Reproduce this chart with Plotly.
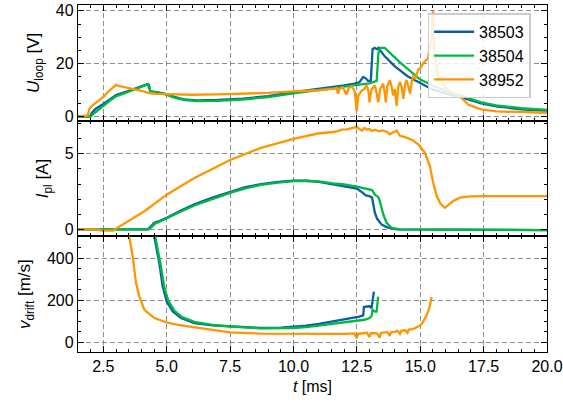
import plotly.graph_objects as go
from plotly.subplots import make_subplots

# ---------------- data ----------------
shots = ["38503", "38504", "38952"]
colors = ["#0C5DA5", "#00B945", "#FF9500"]

# Loop voltage U_loop [V]
t_u_38503 = [1.5, 1.97, 2.05, 2.2, 2.5, 2.8, 3.0, 3.5, 4.0, 4.25, 4.3, 4.35, 4.6, 4.9, 5.3, 5.7, 6.2,
             7.0, 8.0, 9.0, 10.0, 10.5, 11.5, 12.0, 12.4, 12.6, 12.75, 12.85, 12.95, 13.05, 13.12,
             13.2, 13.3, 13.35, 13.6, 14.0, 14.5, 15.0, 15.5, 16.0, 16.6, 17.4, 18.0, 19.0, 20.0]
u_38503 = [0, 0, 1.5, 3.0, 4.8, 7.0, 8.2, 9.8, 11.3, 12.3, 12.0, 9.6, 9.3, 8.7, 7.5, 6.5, 6.2,
           6.3, 6.8, 7.8, 9.3, 9.9, 11.0, 11.8, 12.5, 13.0, 15.0, 14.5, 13.5, 13.6, 25.5,
           26.0, 25.5, 26.0, 22.8, 19.0, 15.3, 12.6, 10.2, 8.8, 7.4, 5.0, 3.9, 2.8, 2.2]

t_u_38504 = [1.5, 2.0, 2.1, 2.3, 2.5, 2.8, 3.0, 3.5, 4.0, 4.25, 4.35, 4.6, 4.9, 5.3, 5.7, 6.2,
             7.0, 8.0, 9.0, 10.0, 10.5, 11.5, 12.0, 12.5, 13.0, 13.28, 13.35, 13.42, 13.6, 14.2,
             15.0, 15.5, 16.0, 16.6, 17.4, 18.0, 19.0, 20.0]
u_38504 = [0, 0, 1.0, 2.6, 4.3, 6.4, 7.7, 9.6, 11.2, 12.2, 9.6, 9.2, 8.6, 7.2, 6.3, 5.9,
           6.0, 6.5, 7.4, 8.8, 9.5, 10.8, 11.4, 12.0, 12.6, 13.5, 24.0, 26.0, 26.0, 20.5,
           14.0, 11.8, 9.8, 8.0, 5.4, 4.3, 3.2, 2.6]

t_u_38952 = [1.5, 1.88, 1.95, 2.1, 2.3, 2.5, 2.7, 2.9, 3.0, 3.1, 3.3, 3.6, 4.0, 4.3, 4.6, 5.0,
             6.0, 7.0, 8.0, 9.0, 10.0, 11.0, 11.5,
             11.6, 11.7, 11.76, 11.82, 11.95, 12.09, 12.18, 12.3, 12.42, 12.49, 12.56, 12.69,
             12.8, 12.88, 12.95, 13.0, 13.07, 13.14, 13.21, 13.28, 13.34, 13.42, 13.54, 13.6,
             13.64, 13.7, 13.8, 13.88, 13.93, 14.0, 14.07, 14.13, 14.2, 14.27, 14.33, 14.4,
             14.46, 14.53, 14.6, 14.66, 14.72, 14.8, 14.92, 15.02, 15.12,
             15.3, 15.45, 15.5, 15.55, 15.7, 16.0, 16.3, 16.6, 16.9, 17.4, 18.0, 19.0, 20.0]
u_38952 = [0.3, 0.3, 3.0, 4.5, 6.0, 7.5, 9.5, 11.2, 12.0, 11.6, 11.2, 10.8, 9.8, 8.9, 8.6, 8.5,
           8.3, 8.4, 8.6, 9.0, 9.6, 10.0, 10.5,
           10.4, 10.8, 8.7, 10.6, 11.0, 8.3, 10.8, 11.5, 9.5, 2.2, 8.0, 9.9,
           10.5, 11.9, 10.0, 5.4, 10.2, 11.0, 11.9, 9.0, 5.4, 10.5, 12.5, 9.0,
           5.4, 11.5, 13.8, 11.0, 8.0, 10.5, 4.1, 11.0, 13.2, 11.0, 6.7, 12.0,
           13.8, 11.5, 8.7, 13.0, 15.1, 14.5, 17.7, 18.5, 20.3,
           22.0, 30.0, 40.0, 25.0, 15.0, 11.0, 9.0, 7.4, 4.5, 2.8, 2.0, 1.7, 1.5]

# Plasma current I_pl [A]
t_i_38503 = [1.5, 4.25, 4.35, 4.51, 4.7, 5.0, 5.5, 6.09, 6.8, 7.5, 8.1, 8.72, 9.4, 10.0, 10.5,
             11.0, 11.56, 12.0, 12.5, 12.75, 12.85, 13.0, 13.1, 13.21, 13.3, 13.47, 13.67,
             14.07, 16.0, 20.0]
i_38503 = [0, 0, 0.15, 0.44, 0.55, 0.77, 1.2, 1.66, 2.1, 2.5, 2.8, 3.0, 3.15, 3.22, 3.22,
           3.15, 3.0, 2.88, 2.7, 2.4, 2.25, 2.2, 2.1, 1.1, 0.7, 0.33, 0.15,
           0.0, -0.03, -0.05]

t_i_38504 = [1.5, 4.28, 4.4, 4.55, 4.7, 5.0, 5.5, 6.09, 6.8, 7.5, 8.1, 8.72, 9.4, 10.0, 10.5,
             11.0, 11.56, 12.0, 12.5, 12.8, 13.1, 13.21, 13.34, 13.4, 13.47, 13.54, 13.67,
             13.87, 14.2, 16.0, 20.0]
i_38504 = [0, 0, 0.15, 0.4, 0.5, 0.72, 1.13, 1.58, 2.02, 2.42, 2.72, 2.95, 3.1, 3.2, 3.22,
           3.18, 3.05, 2.98, 2.83, 2.72, 2.6, 2.3, 2.15, 1.9, 1.35, 1.0, 0.44,
           0.1, 0.0, -0.03, -0.05]

t_i_38952 = [1.5, 2.3, 2.4, 2.9, 3.0, 3.2, 3.46, 4.12, 5.0, 6.09, 7.5, 8.72, 10.0, 10.96, 11.56,
             11.75, 11.9, 12.1, 12.3, 12.5, 12.6, 12.7, 12.8, 12.9, 13.0, 13.1, 13.2, 13.4,
             13.5, 13.7, 13.8, 13.9, 14.0, 14.07, 14.2, 14.46, 14.7, 14.92, 15.18, 15.38,
             15.51, 15.65, 15.8, 15.97, 16.3, 16.57, 17.0, 17.49, 20.0]
i_38952 = [0, 0, -0.08, -0.08, 0.05, 0.25, 0.55, 1.2, 2.3, 3.4, 4.6, 5.4, 6.0, 6.35, 6.45,
           6.5, 6.6, 6.62, 6.7, 6.78, 6.65, 6.55, 6.72, 6.6, 6.65, 6.52, 6.6, 6.5,
           6.55, 6.45, 6.3, 6.4, 6.5, 6.55, 6.2, 6.08, 5.9, 5.64, 5.08, 4.2,
           3.09, 2.21, 1.7, 1.43, 1.88, 2.1, 2.18, 2.2, 2.2]

# Drift velocity v_drift [m/s]
t_v_38503 = [4.35, 4.51, 4.71, 4.84, 5.0, 5.24, 5.56, 6.09, 6.8, 7.5, 8.72, 9.5, 10.0, 10.5,
             11.0, 11.56, 12.0, 12.35, 12.6, 12.75, 12.78, 12.9, 13.01, 13.08, 13.12, 13.17]
v_38503 = [900, 500, 375, 265, 194, 146, 115, 91, 80, 75, 68, 70, 74, 79,
           88, 99, 107, 115, 122, 128, 168, 170, 171, 162, 200, 241]

t_v_38504 = [4.4, 4.55, 4.75, 4.9, 5.05, 5.3, 5.6, 6.09, 6.8, 7.5, 8.72, 9.5, 10.0, 10.5,
             11.0, 11.56, 12.0, 12.5, 12.8, 13.0, 13.08, 13.12, 13.21, 13.28, 13.34]
v_38504 = [900, 500, 375, 265, 200, 150, 120, 97, 83, 75, 66, 66, 68, 72,
           80, 88, 95, 103, 107, 115, 125, 154, 146, 146, 217]

t_v_38952 = [3.4, 3.52, 3.66, 3.79, 3.92, 4.12, 4.51, 5.0, 5.5, 6.09, 6.8, 7.5, 8.72, 9.5,
             10.5, 11.0, 11.5, 12.0, 12.4, 12.5, 12.55, 12.8, 12.9, 13.0, 13.05, 13.3, 13.4,
             13.45, 13.7, 13.8, 13.85, 14.0, 14.1, 14.2, 14.25, 14.4, 14.5, 14.55, 14.7, 14.8,
             15.0, 15.1, 15.25, 15.35, 15.45]
v_38952 = [900, 500, 406, 280, 217, 154, 115, 94, 82, 72, 58, 47, 41, 40,
           40, 40, 41, 40, 42, 20, 40, 42, 45, 25, 44, 43, 22,
           45, 48, 30, 48, 50, 55, 40, 55, 58, 45, 60, 62, 68,
           80, 95, 128, 160, 215]

x_ticks = [2.5, 5.0, 7.5, 10.0, 12.5, 15.0, 17.5, 20.0]

# ---------------- figure ----------------
fig = make_subplots(rows=3, cols=1, shared_xaxes=True, vertical_spacing=0)

u_t = [t_u_38503, t_u_38504, t_u_38952]
u_v = [u_38503, u_38504, u_38952]
i_t = [t_i_38503, t_i_38504, t_i_38952]
i_v = [i_38503, i_38504, i_38952]
v_t = [t_v_38503, t_v_38504, t_v_38952]
v_v = [v_38503, v_38504, v_38952]

for k in range(3):
    fig.add_trace(go.Scatter(x=u_t[k], y=u_v[k], mode="lines", name=shots[k],
                             line=dict(color=colors[k], width=2.3)),
                  row=1, col=1)
for k in range(3):
    fig.add_trace(go.Scatter(x=i_t[k], y=i_v[k], mode="lines", name=shots[k], showlegend=False,
                             line=dict(color=colors[k], width=2.3)),
                  row=2, col=1)
for k in range(3):
    fig.add_trace(go.Scatter(x=v_t[k], y=v_v[k], mode="lines", name=shots[k], showlegend=False,
                             line=dict(color=colors[k], width=2.3)),
                  row=3, col=1)

FONT = "Liberation Sans, Arial, sans-serif"
GRID = "#8c8c8c"
axis_common = dict(showline=True, linecolor="black", linewidth=1.3, mirror="allticks",
                   ticks="inside", ticklen=6, tickwidth=1.1, tickcolor="black",
                   showgrid=True, gridcolor=GRID, griddash="5px,3px", gridwidth=1,
                   zeroline=False, tickfont=dict(size=16, color="black", family=FONT))

for r in (1, 2, 3):
    fig.update_xaxes(range=[1.5, 20.0], tickvals=x_ticks, tickformat=".1f",
                     minor=dict(dtick=0.5, tick0=0, ticks="inside", ticklen=3, tickcolor="black",
                                showgrid=False),
                     showticklabels=(r == 3), row=r, col=1, **axis_common)

fig.update_xaxes(title=dict(text="<i>t</i> [ms]", font=dict(size=16, family=FONT, color="black"),
                            standoff=6), row=3, col=1)

TITLE_FONT = dict(size=17, family=FONT, color="black")
fig.update_yaxes(range=[-1.5, 42.2], tickvals=[0, 20, 40],
                 minor=dict(dtick=5, tick0=0, ticks="inside", ticklen=3, tickcolor="black", showgrid=False),
                 title=dict(text="<i>U</i><sub>loop</sub> [V]", font=TITLE_FONT, standoff=11),
                 row=1, col=1, **axis_common)
fig.update_yaxes(range=[-0.46, 7.2], tickvals=[0, 5],
                 minor=dict(dtick=1, tick0=0, ticks="inside", ticklen=3, tickcolor="black", showgrid=False),
                 title=dict(text="<i>I</i><sub>pl</sub> [A]", font=TITLE_FONT, standoff=11),
                 row=2, col=1, **axis_common)
fig.update_yaxes(range=[-46, 503], tickvals=[0, 200, 400],
                 minor=dict(dtick=50, tick0=0, ticks="inside", ticklen=3, tickcolor="black", showgrid=False),
                 title=dict(text="<i>v</i><sub>drift</sub> [m/s]", font=TITLE_FONT, standoff=11),
                 row=3, col=1, **axis_common)

fig.update_layout(
    width=563, height=407,
    margin=dict(l=78, r=16, t=5, b=55, autoexpand=False),
    paper_bgcolor="white", plot_bgcolor="white",
    font=dict(family=FONT, size=16, color="black"),
    showlegend=True,
    legend=dict(x=0.965, y=0.976, xanchor="right", yanchor="top",
                bgcolor="rgba(255,255,255,0.85)", bordercolor="#cccccc", borderwidth=1.5,
                font=dict(size=16, family=FONT, color="black"),
                itemwidth=40),
)

fig.write_html("out.html", config={"displayModeBar": False},
               post_script="document.body.style.margin='0px';")
